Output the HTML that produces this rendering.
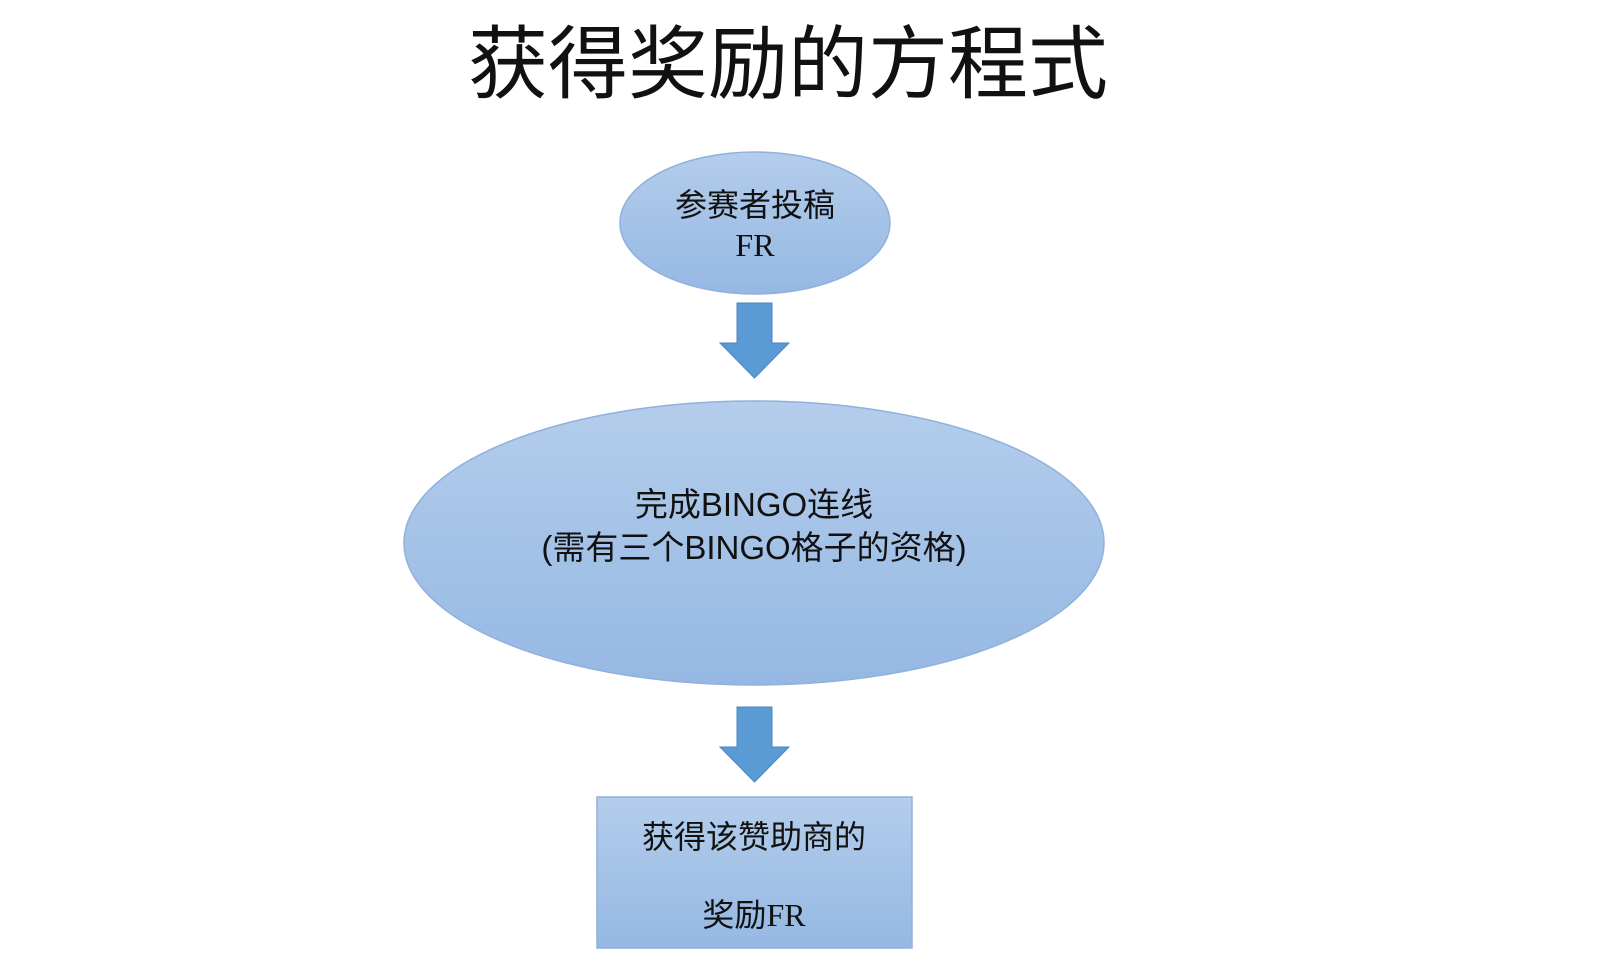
<!DOCTYPE html>
<html><head><meta charset="utf-8"><style>
body{margin:0;width:1600px;height:967px;background:#fff;overflow:hidden}
svg{display:block}
.c{font-family:"Liberation Sans","Noto Sans CJK SC",sans-serif;fill:#111}
</style></head><body>
<svg width="1600" height="967" viewBox="0 0 1600 967">
<defs>
<linearGradient id="g" x1="0" y1="0" x2="0" y2="1">
<stop offset="0" stop-color="#b4cdeb"/><stop offset="1" stop-color="#95b8e3"/>
</linearGradient>
</defs>
<text x="788" y="92" text-anchor="middle" class="c" font-size="80">获得奖励的方程式</text>
<ellipse cx="755" cy="223" rx="135" ry="71" fill="url(#g)" stroke="#8fb1dc" stroke-width="1.5"/>
<text x="755" y="216" text-anchor="middle" class="c" font-size="32">参赛者投稿</text>
<text x="755" y="256" text-anchor="middle" font-family="Liberation Serif,serif" font-size="32" fill="#111">FR</text>
<polygon points="737,303 772,303 772,343 789,343 754.5,378 720,343 737,343" fill="#5b9bd5" stroke="#4a86c0" stroke-width="1"/>
<ellipse cx="754" cy="543" rx="350" ry="142" fill="url(#g)" stroke="#8fb1dc" stroke-width="1.5"/>
<text x="754" y="516" text-anchor="middle" class="c" font-size="33">完成BINGO连线</text>
<text x="754" y="559" text-anchor="middle" class="c" font-size="33">(需有三个BINGO格子的资格)</text>
<polygon points="737,707 772,707 772,747 789,747 754.5,782 720,747 737,747" fill="#5b9bd5" stroke="#4a86c0" stroke-width="1"/>
<rect x="597" y="797" width="315" height="151" fill="url(#g)" stroke="#8fb1dc" stroke-width="1.5"/>
<text x="754" y="848" text-anchor="middle" class="c" font-size="32">获得该赞助商的</text>
<text x="754" y="926" text-anchor="middle" font-size="32" fill="#111" font-family="Liberation Serif,'Noto Sans CJK SC',serif"><tspan font-family="Liberation Sans,'Noto Sans CJK SC',sans-serif">奖励</tspan>FR</text>
</svg>
</body></html>
